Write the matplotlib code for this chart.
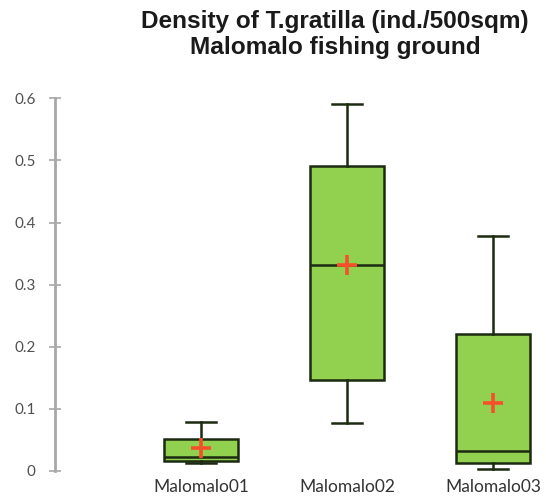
import matplotlib
matplotlib.use("Agg")
import matplotlib.pyplot as plt

categories = ['Malomalo01', 'Malomalo02', 'Malomalo03']
whislo = [0.013, 0.077, 0.004]
q1 = [0.016, 0.147, 0.013]
med = [0.022, 0.332, 0.032]
q3 = [0.051, 0.491, 0.220]
whishi = [0.079, 0.591, 0.379]
means = [0.037, 0.332, 0.109]
yticks = [0, 0.1, 0.2, 0.3, 0.4, 0.5, 0.6]
ytick_labels = ['0', '0.1', '0.2', '0.3', '0.4', '0.5', '0.6']
title = 'Density of T.gratilla (ind./500sqm)\nMalomalo fishing ground'

fig = plt.figure(figsize=(5.46, 4.99), dpi=100)
ax = fig.add_axes([55/546, 28/499, (546-55)/546, (471-98.3)/499])

stats = []
for i, c in enumerate(categories):
    stats.append(dict(label=c, whislo=whislo[i], q1=q1[i], med=med[i], q3=q3[i],
                      whishi=whishi[i], mean=means[i], fliers=[]))

edge = '#1b2a10'
ax.bxp(stats, positions=[1, 2, 3], widths=0.51, capwidths=0.21, patch_artist=True,
       showmeans=True,
       boxprops=dict(facecolor='#92D050', edgecolor=edge, linewidth=1.8),
       medianprops=dict(color=edge, linewidth=1.8),
       whiskerprops=dict(color=edge, linewidth=1.8),
       capprops=dict(color=edge, linewidth=1.8),
       meanprops=dict(marker='+', markersize=15, markeredgewidth=2.6,
                      markeredgecolor='#F5502A', markerfacecolor='#F5502A'))

ax.set_xlim(0, (546-55)/146)
ax.set_ylim(0, 0.6)
ax.set_yticks(yticks)
ax.set_yticklabels(ytick_labels, fontfamily='Lato', fontsize=11, color='#505050')
ax.set_xticks([1, 2, 3])
ax.set_xticklabels(categories, fontfamily='Lato', fontsize=12.5, color='#333333')
ax.tick_params(axis='x', length=0, pad=6)
ax.tick_params(axis='y', direction='inout', length=8, width=1.2, color='#a8a8a8', pad=10)
for s in ['top', 'right', 'bottom']:
    ax.spines[s].set_visible(False)
ax.spines['left'].set_color('#a8a8a8')
ax.spines['left'].set_linewidth(2)
ax.patch.set_alpha(0)

fig.text(335/546, 1 - 34.5/499, title, ha='center', va='center',
         fontfamily='Liberation Sans', fontweight='bold', fontsize=17.6,
         color='#1a1a1a', linespacing=1.12)

fig.savefig('out.png', dpi=100)
